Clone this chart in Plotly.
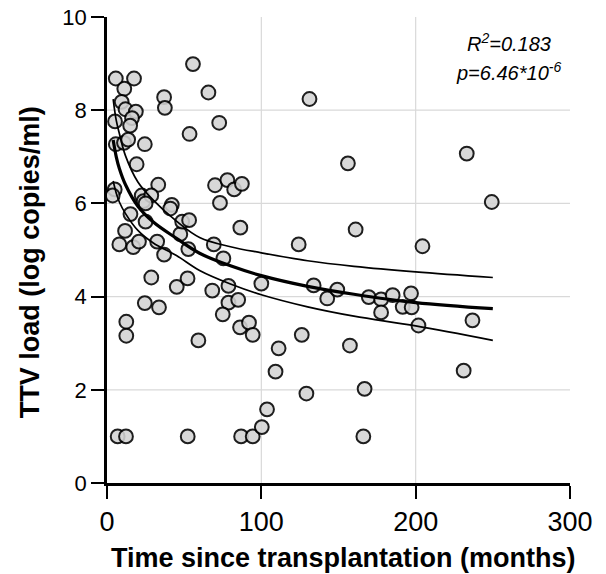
import plotly.graph_objects as go

# Scatter data: months since transplantation vs TTV load (log copies/ml)
months = [5.7, 17.5, 11.2, 9.5, 12.0, 5.2, 18.7, 16.2, 15.0, 5.7, 11.0, 13.7, 24.5, 19.2,
          5.0, 3.7, 33.2, 22.5, 23.7, 28.7, 25.0, 42.0, 41.0, 15.2, 25.0, 11.7, 8.0, 17.0,
          20.7, 32.5, 37.0, 47.5, 48.7, 53.2, 52.7, 55.7, 37.0, 37.5, 53.5, 65.7, 72.7, 70.0,
          78.0, 82.4, 87.4, 73.2, 86.4, 69.2, 75.4, 28.7, 45.2, 52.2, 24.5, 33.7, 68.2, 78.7,
          78.7, 75.0, 85.0, 12.5, 12.5, 86.2, 92.0, 94.4, 59.2, 100.0, 6.9, 12.3, 52.3, 86.9,
          94.4, 100.3, 103.7, 111.2, 109.2, 124.2, 126.2, 129.2, 131.2, 133.9, 142.7, 149.2,
          156.1, 161.1, 157.4, 166.9, 166.1, 169.6, 177.6, 177.6, 185.1, 191.6, 197.0, 197.4,
          201.8, 204.4, 233.1, 249.3, 236.8, 231.1]
ttv_load = [8.68, 8.68, 8.46, 8.18, 8.02, 7.76, 7.97, 7.83, 7.67, 7.27, 7.30, 7.37, 7.27, 6.84,
            6.30, 6.17, 6.40, 6.17, 6.05, 6.17, 6.00, 5.97, 5.89, 5.77, 5.61, 5.41, 5.12, 5.06,
            5.18, 5.18, 4.90, 5.34, 5.61, 5.64, 5.02, 8.99, 8.28, 8.05, 7.49, 8.38, 7.73, 6.39,
            6.50, 6.30, 6.42, 6.01, 5.48, 5.12, 4.82, 4.41, 4.21, 4.39, 3.86, 3.77, 4.13, 4.23,
            3.87, 3.62, 3.93, 3.46, 3.16, 3.34, 3.44, 3.18, 3.06, 4.28, 1.00, 1.00, 1.00, 1.00,
            1.00, 1.20, 1.58, 2.89, 2.39, 5.12, 3.18, 1.92, 8.24, 4.24, 3.96, 4.15,
            6.86, 5.44, 2.95, 2.02, 1.00, 3.99, 3.94, 3.66, 4.03, 3.78, 4.07, 3.77,
            3.38, 5.08, 7.07, 6.03, 3.49, 2.41]

# Fitted curve and 95% confidence band
curve_x = [4, 6, 8, 12, 20, 30, 45, 60, 80, 100, 130, 160, 200, 250]
fit_y = [7.36, 7.00, 6.75, 6.40, 5.94, 5.60, 5.25, 4.93, 4.66, 4.45, 4.22, 4.05, 3.87, 3.74]
upper_y = [8.24, 7.78, 7.50, 7.02, 6.46, 6.07, 5.62, 5.27, 5.07, 4.94, 4.77, 4.65, 4.53, 4.41]
lower_y = [6.48, 6.22, 6.03, 5.78, 5.42, 5.15, 4.88, 4.56, 4.27, 4.04, 3.78, 3.58, 3.37, 3.06]

x_ticks = [0, 100, 200, 300]
y_ticks = [0, 2, 4, 6, 8, 10]
x_grid = [100, 200]
y_grid = [2, 4, 6, 8]

FONT = "Liberation Sans, Arial, sans-serif"

fig = go.Figure()

fig.add_trace(go.Scatter(
    x=months, y=ttv_load, mode="markers",
    marker=dict(size=13.8, color="#d3d3d3", opacity=0.88,
                line=dict(color="black", width=2)),
    showlegend=False, hoverinfo="x+y"))

for ys, w in [(upper_y, 1.7), (lower_y, 1.7), (fit_y, 3.2)]:
    fig.add_trace(go.Scatter(
        x=curve_x, y=ys, mode="lines",
        line=dict(color="black", width=w, shape="spline", smoothing=1.0),
        showlegend=False, hoverinfo="skip"))

shapes = []
for gx in x_grid:
    shapes.append(dict(type="line", xref="x", yref="paper", x0=gx, x1=gx, y0=0, y1=1,
                       line=dict(color="#d9d9d9", width=1.2), layer="below"))
for gy in y_grid:
    shapes.append(dict(type="line", xref="paper", yref="y", x0=0, x1=1, y0=gy, y1=gy,
                       line=dict(color="#d9d9d9", width=1.2), layer="below"))

fig.update_layout(
    width=606, height=574,
    margin=dict(l=107, r=36, t=17, b=91, autoexpand=False),
    paper_bgcolor="white", plot_bgcolor="white",
    font=dict(family=FONT, color="black"),
    shapes=shapes,
    xaxis=dict(range=[0, 300], tickvals=x_ticks, showgrid=False, zeroline=False,
               showline=True, linecolor="black", linewidth=2.5, automargin=False,
               ticks="outside", ticklen=13, tickwidth=2, tickcolor="black",
               tickfont=dict(size=27, family=FONT)),
    yaxis=dict(range=[0, 10], tickvals=y_ticks, showgrid=False, zeroline=False,
               showline=True, linecolor="black", linewidth=2.5, automargin=False,
               ticks="outside", ticklen=13, tickwidth=2, tickcolor="black",
               tickfont=dict(size=22, family=FONT)),
    annotations=[
        dict(text="<b>Time since transplantation (months)</b>", xref="paper", yref="paper",
             x=0.51, y=-0.161, xanchor="center", yanchor="middle", showarrow=False,
             font=dict(size=27, family=FONT)),
        dict(text="<b>TTV load (log copies/ml)</b>", xref="paper", yref="paper",
             x=-0.166, y=0.474, xanchor="center", yanchor="middle", textangle=-90,
             showarrow=False, font=dict(size=27, family=FONT)),
        dict(text="<i>R<sup>2</sup>=0.183</i>", xref="paper", yref="paper",
             x=0.868, y=0.946, xanchor="center", yanchor="middle", showarrow=False,
             font=dict(size=20, family=FONT)),
        dict(text="<i>p=6.46*10<sup>-6</sup></i>", xref="paper", yref="paper",
             x=0.868, y=0.882, xanchor="center", yanchor="middle", showarrow=False,
             font=dict(size=20, family=FONT)),
    ],
)

fig.write_html("out.html", config={"displayModeBar": False},
               post_script="document.body.style.margin='0';document.body.style.overflow='hidden';")
